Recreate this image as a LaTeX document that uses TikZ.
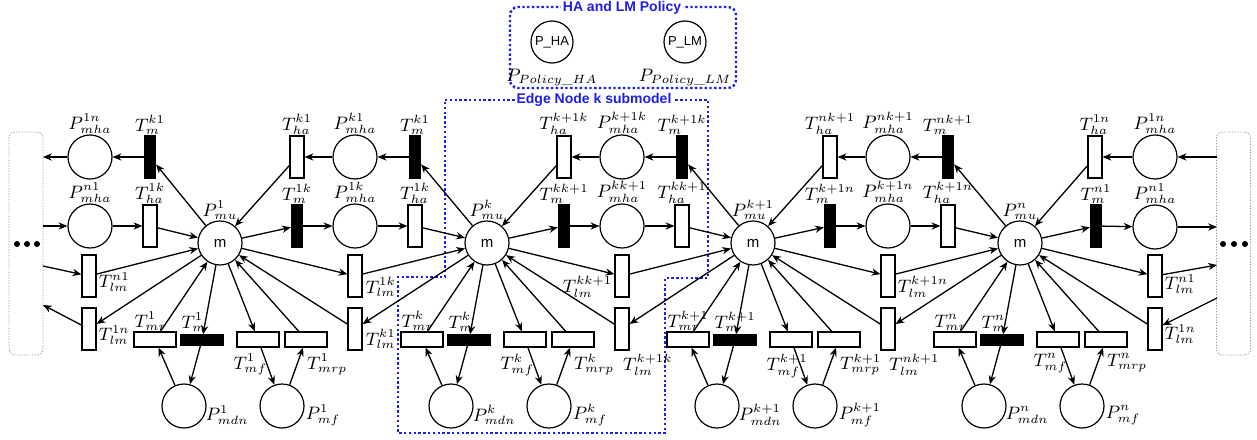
\documentclass[tikz,border=0pt]{standalone}
\usepackage{amsmath}
\usepackage{fontspec}
\newfontfamily\arialf{Liberation Sans}
\usetikzlibrary{arrows.meta}
\definecolor{pblue}{RGB}{30,30,230}
\begin{document}
\begin{tikzpicture}[x=0.5pt,y=-0.5pt,
  place/.style={circle,draw,line width=0.6pt,minimum size=22pt,inner sep=0pt,font=\arialf\fontsize{7.5}{8}\selectfont},
  tw/.style={rectangle,draw,line width=0.6pt,minimum width=7pt,minimum height=21pt,inner sep=0pt},
  tb/.style={tw,fill=black,minimum width=5.5pt},
  thw/.style={rectangle,draw,line width=0.6pt,minimum width=21pt,minimum height=7.5pt,inner sep=0pt},
  thb/.style={thw,fill=black,minimum height=5pt},
  arc/.style={-{Stealth[length=4.4pt,width=3.6pt]},line width=0.65pt},
  lab/.style={font=\fontsize{9}{10}\selectfont,inner sep=0.4pt,minimum width=0pt,minimum height=0pt,text=black},
  bluedot/.style={draw=pblue,line width=1.2pt,dash pattern=on 1.2pt off 1.2pt},
  graybox/.style={draw=gray!80,line width=0.4pt,dash pattern=on 0.6pt off 0.8pt,rounded corners=3pt,minimum width=17pt,minimum height=111.5pt,inner sep=0pt},
  btitle/.style={fill=white,text=pblue,font=\arialf\bfseries\fontsize{7}{8}\selectfont,inner sep=1pt}
]
\useasboundingbox (0,0) rectangle (1257,439);

% blue dotted frames
\draw[bluedot] (445,100) -- (708,100) -- (708,278) -- (665,278) -- (665,433) -- (398,433) -- (398,277) -- (445,277) -- cycle;
\node[btitle] (edgetitle) at (594,100) {Edge Node k submodel};
\draw[bluedot,rounded corners=4pt] (510,7) rectangle (736,88);
\node[btitle] (poltitle) at (622,8) {HA and LM Policy};
\node[place,minimum size=21pt,font=\arialf\fontsize{6.5}{7}\selectfont,label={[lab,yshift=-2pt]below:$P_{Policy\text{\_}HA}$}] (pha) at (552,42) {P\_HA};
\node[place,minimum size=21pt,font=\arialf\fontsize{6.5}{7}\selectfont,label={[lab,yshift=-2pt]below:$P_{Policy\text{\_}LM}$}] (plm) at (685,42) {P\_LM};

% side boxes
\node[graybox] (boxL) at (26,243.5) {};
\node[graybox] (boxR) at (1233.5,243.5) {};
\fill (17,244) circle (3) (27,244) circle (3) (37,244) circle (3);
\fill (1223,244) circle (3) (1234,244) circle (3) (1245,244) circle (3);
\coordinate (bL1) at (43,157);
\coordinate (bL2) at (43,226);
\coordinate (bL3) at (43,266);
\coordinate (bL4) at (43,305);
\coordinate (bR1) at (1217,157);
\coordinate (bR2) at (1217,227);
\coordinate (bR3) at (1217,265);
\coordinate (bR4) at (1217,298);

% modules
\foreach \i/\cx/\s in {1/220/1,2/487/k,3/753/k+1,4/1020/n}{
  \node[place,label={[lab]above:$P^{\s}_{mu}$}] (mu\i) at (\cx,243) {m};
  \node[thw,label={[lab,anchor=south west]north west:$T^{\s}_{mr}$}] (tmr\i) at (\cx-65,339.5) {};
  \node[thb,label={[lab,anchor=south west,yshift=1pt]north west:$T^{\s}_{m}$}] (tmk\i) at (\cx-18,340) {};
  \node[thw,label={[lab,anchor=north west,xshift=-2pt,yshift=-2.5pt]south west:$T^{\s}_{mf}$}] (tmf\i) at (\cx+38,339.5) {};
  \node[thw,label={[lab,anchor=north west,yshift=-2.5pt]south:$T^{\s}_{mrp}$}] (tmrp\i) at (\cx+86,339.5) {};
  \node[place,label={[lab,anchor=west,xshift=-1pt,yshift=-4.5pt]east:$P^{\s}_{mdn}$}] (mdn\i) at (\cx-36,406) {};
  \node[place,label={[lab,anchor=west,yshift=-4.5pt]east:$P^{\s}_{mf}$}] (mf\i) at (\cx+62,406) {};
  \draw[arc] (mdn\i) -- (tmr\i);
  \draw[arc] (tmr\i) -- (mu\i);
  \draw[arc] (mu\i) -- (tmk\i);
  \draw[arc] (tmk\i) -- (mdn\i);
  \draw[arc] (mu\i) -- (tmf\i);
  \draw[arc] (tmf\i) -- (mf\i);
  \draw[arc] (mf\i) -- (tmrp\i);
  \draw[arc] (tmrp\i) -- (mu\i);
}

% gaps between modules
\foreach \g/\ax/\a/\b in {1/220/1/k,2/487/k/k+1,3/753/k+1/n}{
  \pgfmathtruncatemacro{\h}{\g+1}
  \node[tw,label={[lab]above:$T^{\b\a}_{ha}$}] (hat\g) at (\ax+77,157) {};
  \node[place,label={[lab]above:$P^{\b\a}_{mha}$}] (pat\g) at (\ax+135,157) {};
  \node[tb,label={[lab]above:$T^{\b\a}_{m}$}] (tmt\g) at (\ax+195,157) {};
  \node[tb,label={[lab]above:$T^{\a\b}_{m}$}] (tmb\g) at (\ax+77,226) {};
  \node[place,label={[lab]above:$P^{\a\b}_{mha}$}] (pab\g) at (\ax+135,226) {};
  \node[tw,label={[lab]above:$T^{\a\b}_{ha}$}] (hab\g) at (\ax+195,226) {};
  \node[tw] (lmu\g) at (\ax+135,276) {};
  \node[tw] (lml\g) at (\ax+135,329) {};
  \draw[arc] (mu\h) -- (tmt\g);
  \draw[arc] (tmt\g) -- (pat\g);
  \draw[arc] (pat\g) -- (hat\g);
  \draw[arc] (hat\g) -- (mu\g);
  \draw[arc] (mu\g) -- (tmb\g);
  \draw[arc] (tmb\g) -- (pab\g);
  \draw[arc] (pab\g) -- (hab\g);
  \draw[arc] (hab\g) -- (mu\h);
  \draw[arc] (mu\g) -- (lmu\g);
  \draw[arc] (lmu\g) -- (mu\h);
  \draw[arc] (mu\h) -- (lml\g);
  \draw[arc] (lml\g) -- (mu\g);
}
\node[lab,anchor=west,xshift=1pt,yshift=-5.5pt] (tl1) at (lmu1.east) {$T^{1k}_{lm}$};
\node[lab,anchor=west,xshift=1pt,yshift=-5pt] (tl2) at (lml1.east) {$T^{k1}_{lm}$};
\node[lab,anchor=east,xshift=-0.5pt,yshift=-5.5pt] (tl3) at (lmu2.west) {$T^{kk+1}_{lm}$};
\node[lab,anchor=north west,yshift=-1pt] (tl4) at (lml2.south) {$T^{k+1k}_{lm}$};
\node[lab,anchor=west,xshift=0.5pt,yshift=-5.5pt] (tl5) at (lmu3.east) {$T^{k+1n}_{lm}$};
\node[lab,anchor=north west,yshift=-1pt] (tl6) at (lml3.south) {$T^{nk+1}_{lm}$};

% wrap-around left of module 1
\node[tb,label={[lab]above:$T^{k1}_{m}$}] (wtm) at (150,157) {};
\node[place,label={[lab]above:$P^{1n}_{mha}$}] (wpa1) at (90,157) {};
\node[place,label={[lab]above:$P^{n1}_{mha}$}] (wpa2) at (90,226) {};
\node[tw,label={[lab]above:$T^{1k}_{ha}$}] (wha) at (150,226) {};
\node[tw,label={[lab,anchor=west,xshift=0.5pt,yshift=-3pt]east:$T^{n1}_{lm}$}] (wl3) at (89,276) {};
\node[tw,label={[lab,anchor=west,xshift=0.5pt,yshift=-3pt]east:$T^{1n}_{lm}$}] (wl4) at (89,329) {};
\draw[arc] (mu1) -- (wtm);
\draw[arc] (wtm) -- (wpa1);
\draw[arc] (wpa1) -- (bL1);
\draw[arc] (bL2) -- (wpa2);
\draw[arc] (wpa2) -- (wha);
\draw[arc] (wha) -- (mu1);
\draw[arc] (bL3) -- (wl3);
\draw[arc] (wl3) -- (mu1);
\draw[arc] (mu1) -- (wl4);
\draw[arc] (wl4) -- (bL4);

% wrap-around right of module n
\node[tw,label={[lab]above:$T^{1n}_{ha}$}] (vha) at (1095,157) {};
\node[place,label={[lab]above:$P^{1n}_{mha}$}] (vpa1) at (1155,157) {};
\node[tb,label={[lab]above:$T^{n1}_{m}$}] (vtm) at (1096,226) {};
\node[place,label={[lab]above:$P^{n1}_{mha}$}] (vpa2) at (1155,227) {};
\node[tw,label={[lab,anchor=west,xshift=0.5pt,yshift=-4pt]east:$T^{n1}_{lm}$}] (vl3) at (1155,276) {};
\node[tw,label={[lab,anchor=west,xshift=0.5pt,yshift=-2.5pt]east:$T^{1n}_{lm}$}] (vl4) at (1155,329) {};
\draw[arc] (bR1) -- (vpa1);
\draw[arc] (vpa1) -- (vha);
\draw[arc] (vha) -- (mu4);
\draw[arc] (mu4) -- (vtm);
\draw[arc] (vtm) -- (vpa2);
\draw[arc] (vpa2) -- (bR2);
\draw[arc] (mu4) -- (vl3);
\draw[arc] (vl3) -- (bR3);
\draw[arc] (bR4) -- (vl4);
\draw[arc] (vl4) -- (mu4);
\end{tikzpicture}
\end{document}
